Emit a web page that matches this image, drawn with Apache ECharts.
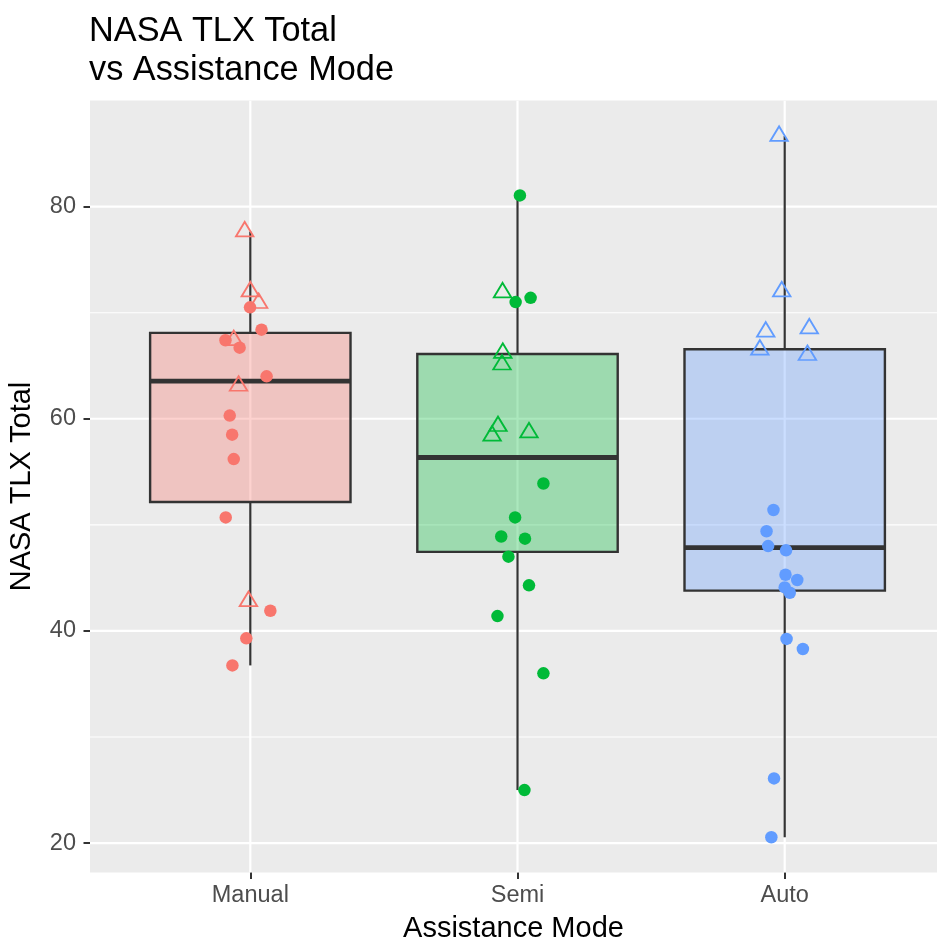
<!DOCTYPE html>
<html>
<head>
<meta charset="utf-8">
<script src="https://cdn.jsdelivr.net/npm/echarts@6/dist/echarts.min.js"></script>
<style>
html,body{margin:0;padding:0;background:#fff;}
#chart{width:937px;height:943px;}
</style>
</head>
<body>
<div id="chart"></div>
<script>
// ---------- data ----------
const categories = ['Manual', 'Semi', 'Auto'];
const colors = ['#F8766D', '#00BA38', '#619CFF'];
const boxFills = ['rgba(248,118,109,0.33)', 'rgba(0,186,56,0.33)', 'rgba(97,156,255,0.33)'];

const whiskerLow  = [36.75, 25.0, 20.55];
const q1          = [52.15, 47.45, 43.8];
const median      = [63.55, 56.35, 47.85];
const q3          = [68.1, 66.1, 66.55];
const whiskerHigh = [77.65, 81.05, 86.65];

const manualCircles = [70.5, 68.4, 67.4, 66.7, 64.0, 60.3, 58.5, 56.2, 50.7, 41.9, 39.3, 36.75];
const manualCircleJitter = [-0.001, 0.042, -0.093, -0.040, 0.061, -0.077, -0.068, -0.062, -0.092, 0.075, -0.015, -0.067];
const manualTriangles = [77.65, 72.0, 70.9, 67.4, 63.1, 42.8];
const manualTriangleJitter = [-0.021, 0.0, 0.031, -0.062, -0.044, -0.007];

const semiCircles = [81.05, 71.0, 71.4, 53.9, 50.7, 48.9, 48.7, 47.0, 44.3, 41.4, 36.0, 25.0];
const semiCircleJitter = [0.009, -0.007, 0.049, 0.097, -0.009, -0.061, 0.028, -0.034, 0.043, -0.075, 0.097, 0.026];
const semiTriangles = [71.9, 66.2, 65.1, 59.3, 58.4, 58.7];
const semiTriangleJitter = [-0.056, -0.055, -0.058, -0.073, -0.095, 0.043];

const autoCircles = [51.4, 49.4, 48.0, 47.6, 45.3, 44.8, 44.1, 43.6, 39.25, 38.3, 26.1, 20.55];
const autoCircleJitter = [-0.042, -0.068, -0.062, 0.005, 0.003, 0.047, 0.0, 0.019, 0.007, 0.068, -0.040, -0.050];
const autoTriangles = [86.65, 72.0, 68.2, 68.5, 66.5, 66.0];
const autoTriangleJitter = [-0.021, -0.011, -0.071, 0.092, -0.093, 0.085];

const yTicks = [20, 40, 60, 80];
const yMinorTicks = [30, 50, 70];
const xTicks = [1, 2, 3];

// ---------- build ----------
const FONT = '"Liberation Sans", Arial, Helvetica, sans-serif';
const X_MIN = 0.4, X_MAX = 3.57, Y_MIN = 17.23, Y_MAX = 90.0;
const circleSets = [[manualCircles, manualCircleJitter], [semiCircles, semiCircleJitter], [autoCircles, autoCircleJitter]];
const triangleSets = [[manualTriangles, manualTriangleJitter], [semiTriangles, semiTriangleJitter], [autoTriangles, autoTriangleJitter]];

const circleData = [];
circleSets.forEach(([vals, jit], ci) => {
  vals.forEach((v, i) => circleData.push({ value: [ci + 1 + jit[i], v], itemStyle: { color: colors[ci], opacity: 1 } }));
});
const triangleData = [];
triangleSets.forEach(([vals, jit], ci) => {
  vals.forEach((v, i) => triangleData.push({ value: [ci + 1 + jit[i], v], itemStyle: { color: 'rgba(0,0,0,0)', borderColor: colors[ci], opacity: 1 } }));
});
const boxData = categories.map((c, i) => [i + 1, whiskerLow[i], q1[i], median[i], q3[i], whiskerHigh[i]]);

// grid line records: [orientation (0 = horizontal, 1 = vertical), value, width]
const gridData = [];
yTicks.forEach(v => gridData.push([0, v, 2.2]));
yMinorTicks.forEach(v => gridData.push([0, v, 1.1]));
xTicks.forEach(v => gridData.push([1, v, 2.2]));

const chart = echarts.init(document.getElementById('chart'), null, { renderer: 'canvas' });
chart.setOption({
  animation: false,
  backgroundColor: '#ffffff',
  textStyle: { fontFamily: FONT },
  title: {
    text: 'NASA TLX Total\nvs Assistance Mode',
    left: 84, top: 7,
    textStyle: { fontFamily: FONT, fontSize: 34.3, fontWeight: 'normal', color: '#000000', lineHeight: 39 }
  },
  grid: { left: 90, right: 0, top: 100.5, bottom: 70.5, show: true, backgroundColor: '#EBEBEB', borderWidth: 0,
    containLabel: false, outerBoundsMode: 'none' },
  xAxis: {
    type: 'value', min: X_MIN, max: X_MAX,
    name: 'Assistance Mode', nameLocation: 'middle', nameGap: 42,
    nameTextStyle: { fontFamily: FONT, fontSize: 29, color: '#000000' },
    axisLine: { show: false },
    axisTick: { show: true, length: 6.5, lineStyle: { color: '#333333', width: 2 }, customValues: xTicks },
    axisLabel: { show: true, margin: 11, fontFamily: FONT, fontSize: 23.5, color: '#4D4D4D', customValues: xTicks,
      formatter: v => categories[Math.round(v) - 1] || '' },
    splitLine: { show: false }
  },
  yAxis: {
    type: 'value', min: Y_MIN, max: Y_MAX,
    name: 'NASA TLX Total', nameLocation: 'middle', nameGap: 54, nameRotate: 90,
    nameTextStyle: { fontFamily: FONT, fontSize: 29, color: '#000000' },
    axisLine: { show: false },
    axisTick: { show: true, length: 6.5, lineStyle: { color: '#333333', width: 2 }, customValues: yTicks },
    axisLabel: { show: true, margin: 14, fontFamily: FONT, fontSize: 23.5, color: '#4D4D4D', customValues: yTicks },
    splitLine: { show: false }
  },
  series: [
    {
      type: 'custom', z: 1, silent: true, data: gridData, clip: true,
      encode: { x: -1, y: -1 },
      renderItem: function (params, api) {
        const vertical = api.value(0) === 1;
        const v = api.value(1);
        const p1 = vertical ? api.coord([v, Y_MIN]) : api.coord([X_MIN, v]);
        const p2 = vertical ? api.coord([v, Y_MAX]) : api.coord([X_MAX, v]);
        return { type: 'line', shape: { x1: p1[0], y1: p1[1], x2: p2[0], y2: p2[1] },
          style: { stroke: '#FFFFFF', lineWidth: api.value(2) } };
      }
    },
    {
      type: 'custom', z: 2, silent: true, data: boxData,
      encode: { x: 0, y: [1, 2, 3, 4, 5] },
      renderItem: function (params, api) {
        const x = api.value(0);
        const pLow = api.coord([x, api.value(1)]);
        const pQ1 = api.coord([x, api.value(2)]);
        const pMed = api.coord([x, api.value(3)]);
        const pQ3 = api.coord([x, api.value(4)]);
        const pHigh = api.coord([x, api.value(5)]);
        const half = api.size([0.75, 0])[0] / 2;
        const stroke = '#333333';
        return {
          type: 'group',
          children: [
            { type: 'line', shape: { x1: pLow[0], y1: pLow[1], x2: pQ1[0], y2: pQ1[1] }, style: { stroke, lineWidth: 2.2 } },
            { type: 'line', shape: { x1: pQ3[0], y1: pQ3[1], x2: pHigh[0], y2: pHigh[1] }, style: { stroke, lineWidth: 2.2 } },
            { type: 'rect', shape: { x: pQ3[0] - half, y: pQ3[1], width: half * 2, height: pQ1[1] - pQ3[1] },
              style: { fill: boxFills[params.dataIndex], stroke, lineWidth: 2.4 } },
            { type: 'line', shape: { x1: pMed[0] - half, y1: pMed[1], x2: pMed[0] + half, y2: pMed[1] }, style: { stroke, lineWidth: 4.8 } }
          ]
        };
      }
    },
    {
      type: 'scatter', z: 3, silent: true, data: circleData,
      symbol: 'circle', symbolSize: 12.5,
      itemStyle: { opacity: 1 }
    },
    {
      type: 'scatter', z: 4, silent: true, data: triangleData,
      symbol: 'triangle', symbolSize: [17.5, 14.5], symbolOffset: [0, -2.4],
      itemStyle: { borderWidth: 1.8, opacity: 1 }
    }
  ]
});
</script>
</body>
</html>
